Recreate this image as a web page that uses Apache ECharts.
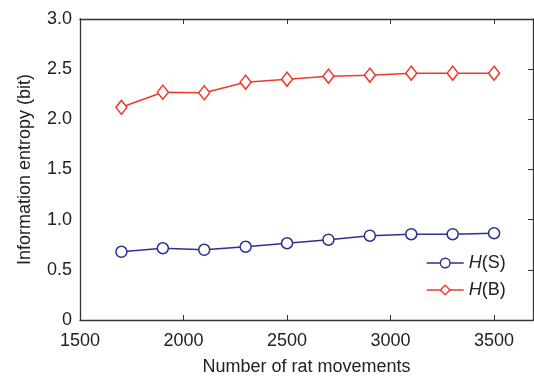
<!DOCTYPE html>
<html>
<head>
<meta charset="utf-8">
<script src="https://cdn.jsdelivr.net/npm/echarts@6/dist/echarts.min.js"></script>
<style>html,body{margin:0;padding:0;background:#fff}#c{width:534px;height:376px}</style>
</head>
<body>
<div id="c"></div>
<script>
var movements = [1700, 1900, 2100, 2300, 2500, 2700, 2900, 3100, 3300, 3500];
var hS = [0.68, 0.715, 0.70, 0.73, 0.765, 0.80, 0.84, 0.855, 0.855, 0.865];
var hB = [2.12, 2.27, 2.265, 2.37, 2.40, 2.43, 2.44, 2.46, 2.46, 2.46];
var xTicks = [1500, 2000, 2500, 3000, 3500];
var yTicks = [0, 0.5, 1.0, 1.5, 2.0, 2.5, 3.0];
var seriesNames = ['H(S)', 'H(B)'];

function pairs(xs, ys) { return xs.map(function (x, i) { return [x, ys[i]]; }); }

var font = 'Liberation Sans, Arial, sans-serif';
var axisCol = '#333333';
var txt = '#222222';
var chart = echarts.init(document.getElementById('c'), null, {renderer: 'canvas'});
var xCommon = {
  type: 'value', min: 1500, max: 3688,
  axisLine: {show: true, onZero: false, lineStyle: {color: axisCol, width: 1.3}},
  axisTick: {show: true, inside: true, length: 5, customValues: xTicks, lineStyle: {color: axisCol}},
  splitLine: {show: false}
};
var yCommon = {
  type: 'value', min: 0, max: 3, interval: 0.5,
  axisLine: {show: true, onZero: false, lineStyle: {color: axisCol, width: 1.3}},
  axisTick: {show: true, inside: true, length: 5, lineStyle: {color: axisCol}},
  splitLine: {show: false}
};
chart.setOption({
  animation: false,
  backgroundColor: '#fff',
  grid: {left: 80, right: 1, top: 19, bottom: 56, containLabel: false, outerBoundsMode: 'none'},
  xAxis: [
    Object.assign({}, xCommon, {
      position: 'bottom',
      name: 'Number of rat movements', nameLocation: 'middle', nameGap: 38,
      nameTextStyle: {fontFamily: font, fontSize: 18, color: txt},
      axisLabel: {show: true, customValues: xTicks, margin: 12, fontFamily: font, fontSize: 18, color: txt,
        formatter: function (v) { return String(v); }}
    }),
    Object.assign({}, xCommon, {position: 'top', axisLabel: {show: false}})
  ],
  yAxis: [
    Object.assign({}, yCommon, {
      position: 'left',
      name: 'Information entropy (bit)', nameLocation: 'middle', nameGap: 46,
      nameTextStyle: {fontFamily: font, fontSize: 18, color: txt},
      axisTick: {show: false},
      axisLabel: {show: true, margin: 8, fontFamily: font, fontSize: 18, color: txt,
        formatter: function (v) { return v === 0 ? '0' : v.toFixed(1); }}
    }),
    Object.assign({}, yCommon, {position: 'right', axisLabel: {show: false}})
  ],
  legend: {
    orient: 'vertical', left: 426, top: 254, padding: 0, itemWidth: 37, itemHeight: 12, itemGap: 9,
    data: seriesNames,
    itemStyle: {color: '#fff', borderWidth: 1.4},
    lineStyle: {width: 1.4},
    formatter: function (n) { return '{i|H}{n|' + n.slice(1) + '}'; },
    textStyle: {fontFamily: font, fontSize: 18, color: txt,
      rich: {i: {fontStyle: 'italic', fontFamily: font, fontSize: 18, color: txt},
             n: {fontFamily: font, fontSize: 18, color: txt}}}
  },
  series: [
    {name: seriesNames[0], type: 'line', data: pairs(movements, hS),
     symbol: 'circle', symbolSize: 11, showSymbol: true,
     lineStyle: {color: '#2b3190', width: 1.5},
     itemStyle: {color: '#fff', borderColor: '#2b3190', borderWidth: 1.5}},
    {name: seriesNames[1], type: 'line', data: pairs(movements, hB),
     symbol: 'diamond', symbolSize: [11, 14], showSymbol: true,
     lineStyle: {color: '#ee3a2c', width: 1.5},
     itemStyle: {color: '#fff', borderColor: '#ee3a2c', borderWidth: 1.5}}
  ]
});
</script>
</body>
</html>
